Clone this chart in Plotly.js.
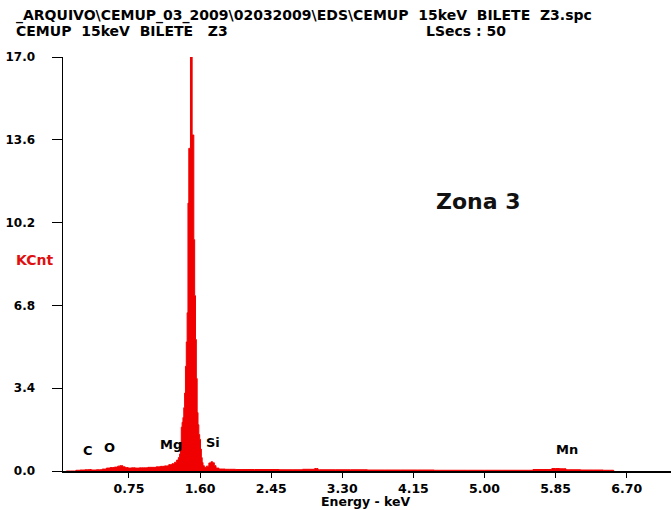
<!DOCTYPE html>
<html>
<head>
<meta charset="utf-8">
<script src="https://cdn.plot.ly/plotly-3.0.1.min.js"></script>
<style>html,body{margin:0;padding:0;background:#fff;}</style>
</head>
<body>
<div id="chart" style="width:671px;height:510px;"></div>
<script>
// Spectrum channels (keV) and counts (KCnt)
const energy = [
  0.00, 0.10, 0.13, 0.20, 0.25, 0.28, 0.32, 0.40, 0.46, 0.50,
  0.55, 0.60, 0.63, 0.66, 0.69, 0.72, 0.76, 0.80, 0.85, 0.90,
  0.95, 1.00, 1.05, 1.10, 1.15, 1.20, 1.25, 1.28, 1.31, 1.33,
  1.35, 1.36, 1.37, 1.38, 1.39, 1.40, 1.41, 1.42, 1.43, 1.44,
  1.45, 1.46, 1.47, 1.48, 1.49, 1.50, 1.51, 1.52, 1.53, 1.54,
  1.55, 1.56, 1.57, 1.58, 1.59, 1.60, 1.61, 1.62, 1.63, 1.64,
  1.66, 1.69, 1.72, 1.74, 1.76, 1.78, 1.80, 1.85, 1.95, 2.10,
  2.40, 2.70, 2.95, 2.99, 3.03, 3.40, 3.80, 4.20, 4.60, 5.00,
  5.40, 5.76, 5.85, 5.95, 6.00, 6.30, 6.54, 6.55
];
const kcnt = [
  0.00, 0.00, 0.03, 0.04, 0.05, 0.06, 0.04, 0.05, 0.08, 0.12,
  0.14, 0.16, 0.20, 0.22, 0.17, 0.14, 0.12, 0.13, 0.12, 0.13,
  0.13, 0.15, 0.15, 0.17, 0.19, 0.21, 0.26, 0.30, 0.36, 0.45,
  0.55, 0.70, 0.90, 1.80, 2.00, 2.20, 2.60, 3.20, 4.30, 5.30,
  6.50, 11.0, 13.25, 13.25, 17.0, 17.0, 13.8, 13.8, 9.5, 7.2,
  5.4, 3.8, 2.4, 1.9, 1.5, 1.3, 0.9, 0.55, 0.35, 0.22,
  0.15, 0.20, 0.33, 0.38, 0.34, 0.22, 0.12, 0.08, 0.07, 0.06,
  0.06, 0.05, 0.07, 0.10, 0.05, 0.05, 0.04, 0.04, 0.03, 0.03,
  0.03, 0.06, 0.10, 0.09, 0.05, 0.04, 0.03, 0.00
];
const xTicks = [0.75, 1.60, 2.45, 3.30, 4.15, 5.00, 5.85, 6.70];
const yTicks = [0.0, 3.4, 6.8, 10.2, 13.6, 17.0];
const elementLabels = ["C", "O", "Mg", "Si", "Al", "Mn"];
const elementEnergy = [0.26, 0.52, 1.25, 1.75, 1.49, 5.99];
const elementLevel  = [0.85, 0.95, 1.10, 1.15, 18.05, 0.90];

const W = 671, H = 510;
const M = {l: 63, r: 0, t: 57, b: 39};
const PW = W - M.l - M.r, PH = H - M.t - M.b;
const px = v => (v - M.l) / PW;
const py = v => (H - M.b - v) / PH;

const BOLD = {family: "DejaVu Sans", size: 13, color: "#000", weight: "bold"};
const HEAD = {family: "DejaVu Sans", size: 14, color: "#000", weight: "bold"};

const annotations = elementLabels.map((t, i) => ({
  text: t, x: elementEnergy[i], y: elementLevel[i], xref: "x", yref: "y",
  showarrow: false, font: BOLD, xanchor: "center", yanchor: "middle"
}));
annotations.push(
  {text: "_ARQUIVO\\CEMUP_03_2009\\02032009\\EDS\\CEMUP  15keV  BILETE  Z3.spc",
   x: px(14), y: py(15), xref: "paper", yref: "paper", xanchor: "left", yanchor: "middle",
   showarrow: false, font: HEAD},
  {text: "CEMUP  15keV  BILETE   Z3", x: px(14), y: py(31), xref: "paper", yref: "paper",
   xanchor: "left", yanchor: "middle", showarrow: false, font: HEAD},
  {text: "LSecs : 50", x: px(424), y: py(31), xref: "paper", yref: "paper",
   xanchor: "left", yanchor: "middle", showarrow: false, font: HEAD},
  {text: "KCnt", x: px(14), y: py(260), xref: "paper", yref: "paper",
   xanchor: "left", yanchor: "middle", showarrow: false,
   font: {family: "DejaVu Sans", size: 14, color: "#e01010", weight: "bold"}},
  {text: "Zona 3", x: px(478), y: py(201), xref: "paper", yref: "paper",
   xanchor: "center", yanchor: "middle", showarrow: false,
   font: {family: "DejaVu Sans", size: 22, color: "#111", weight: "bold"}},
  {text: "Energy - keV", x: px(366), y: py(502), xref: "paper", yref: "paper",
   xanchor: "center", yanchor: "middle", showarrow: false,
   font: {family: "DejaVu Sans", size: 12.5, color: "#000", weight: "bold"}}
);

const trace = {
  x: energy, y: kcnt, type: "scatter", mode: "lines",
  line: {shape: "hvh", color: "rgb(240,0,0)", width: 1},
  fill: "tozeroy", fillcolor: "rgb(240,0,0)", hoverinfo: "skip"
};

const layout = {
  width: W, height: H, margin: M, showlegend: false,
  paper_bgcolor: "#fff", plot_bgcolor: "#fff",
  xaxis: {range: [-0.039, 7.23], tickvals: xTicks, tickformat: ".2f",
    showline: true, linecolor: "#000", linewidth: 1.5, mirror: false,
    ticks: "outside", ticklen: 5, tickwidth: 1, tickcolor: "#000",
    ticklabelstandoff: 0,
    showgrid: false, zeroline: false,
    tickfont: {family: "DejaVu Sans", size: 12.5, color: "#000", weight: "bold"},
    fixedrange: true},
  yaxis: {range: [0, 17], tickvals: yTicks, tickformat: ".1f",
    showline: true, linecolor: "#000", linewidth: 1.5,
    ticks: "outside", ticklen: 10, tickwidth: 1, tickcolor: "#000",
    ticklabelstandoff: 14,
    showgrid: false, zeroline: false,
    tickfont: {family: "DejaVu Sans", size: 12, color: "#000", weight: "bold"},
    fixedrange: true},
  annotations: annotations
};

Plotly.newPlot("chart", [trace], layout, {displayModeBar: false, staticPlot: true});
</script>
</body>
</html>
